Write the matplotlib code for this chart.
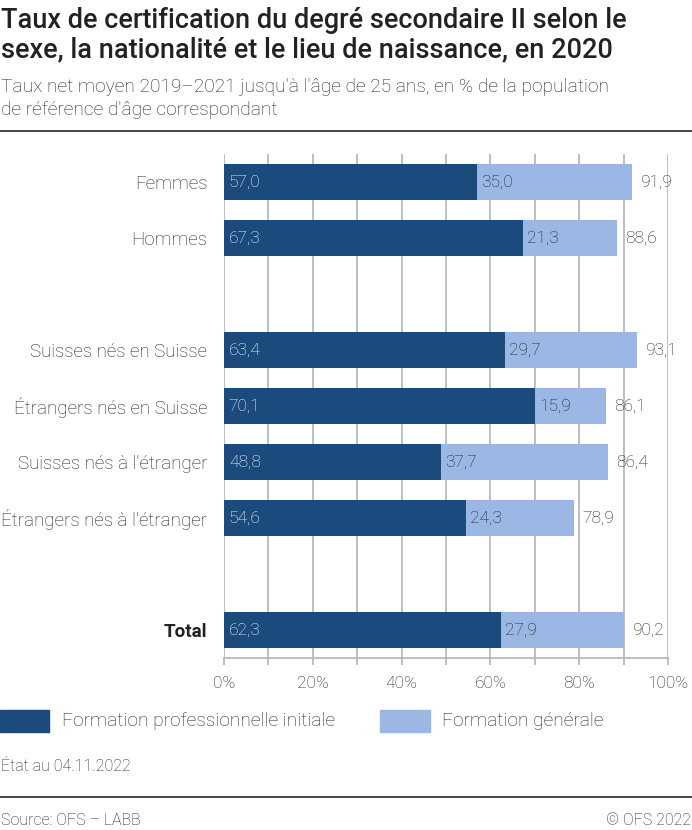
import matplotlib
matplotlib.use("Agg")
import matplotlib.pyplot as plt
from matplotlib.patches import Rectangle
from matplotlib.lines import Line2D

plt.rcParams['font.family'] = ['Roboto', 'DejaVu Sans']

categories = ["Femmes", "Hommes", "", "Suisses nés en Suisse", "Étrangers nés en Suisse",
              "Suisses nés à l'étranger", "Étrangers nés à l'étranger", "", "Total"]
pro = [57.0, 67.3, None, 63.4, 70.1, 48.8, 54.6, None, 62.3]
gen = [35.0, 21.3, None, 29.7, 15.9, 37.7, 24.3, None, 27.9]
tot = [91.9, 88.6, None, 93.1, 86.1, 86.4, 78.9, None, 90.2]
xticks = [0, 20, 40, 60, 80, 100]
xticklabels = ["0%", "20%", "40%", "60%", "80%", "100%"]
series_names = ["Formation professionnelle initiale", "Formation générale"]

DARK = "#1b4a7c"
LIGHT = "#9ab8e3"
GRID = "#b3b3b3"
TXT = "#222222"

W, H = 692, 830
fig = plt.figure(figsize=(W / 100, H / 100), dpi=100)

def fx(px):
    return px / W
def fy(py):
    return 1 - py / H

ax = fig.add_axes([fx(224), fy(658), fx(668) - fx(224), fy(154) - fy(658)])
n = len(categories)
ax.set_ylim(n - 0.5, -0.5)
ax.set_xlim(0, 100)

VFS = 12.5
for i in range(n):
    if pro[i] is None:
        continue
    ax.barh(i, pro[i], height=0.64, color=DARK, zorder=3)
    ax.barh(i, gen[i], left=pro[i], height=0.64, color=LIGHT, zorder=3)
    ax.text(1.1, i, f"{pro[i]:.1f}".replace(".", ","), color="white", va="center",
            ha="left", fontsize=VFS, fontweight="light", zorder=4)
    ax.text(pro[i] + 0.9, i, f"{gen[i]:.1f}".replace(".", ","), color=TXT, va="center",
            ha="left", fontsize=VFS, fontweight="light", zorder=4)
    ax.text(pro[i] + gen[i] + 1.8, i, f"{tot[i]:.1f}".replace(".", ","), color=TXT,
            va="center", ha="left", fontsize=VFS, fontweight="light", zorder=4)

ax.set_xticks(range(0, 101, 10))
ax.set_xticklabels([xticklabels[xticks.index(t)] if t in xticks else "" for t in range(0, 101, 10)])
ax.xaxis.grid(True, color=GRID, linewidth=1.2, zorder=0)
ax.tick_params(axis="x", length=5, width=1.2, color=GRID, labelsize=12.5, labelcolor=TXT, pad=8)
for lbl in ax.get_xticklabels():
    lbl.set_fontweight("light")
ax.set_yticks(range(n))
ax.set_yticklabels(categories)
ax.tick_params(axis="y", length=0, labelsize=13.5, labelcolor=TXT, pad=12)
for i, lbl in enumerate(ax.get_yticklabels()):
    lbl.set_fontweight("bold" if categories[i] == "Total" else "light")
for s in ["top", "right", "left"]:
    ax.spines[s].set_visible(False)
ax.spines["bottom"].set_color(GRID)
ax.spines["bottom"].set_linewidth(1.2)
ax.set_facecolor("none")

# Title and subtitle
TFS = 19.5
fig.text(fx(1), fy(28), "Taux de certification du degré secondaire II selon le",
         fontsize=TFS, fontweight="medium", color=TXT, va="baseline", ha="left")
fig.text(fx(1), fy(57), "sexe, la nationalité et le lieu de naissance, en 2020",
         fontsize=TFS, fontweight="medium", color=TXT, va="baseline", ha="left")
SFS = 13.8
fig.text(fx(1), fy(92), "Taux net moyen 2019–2021 jusqu'à l'âge de 25 ans, en % de la population",
         fontsize=SFS, fontweight="light", color=TXT, va="baseline", ha="left")
fig.text(fx(1), fy(115), "de référence d'âge correspondant",
         fontsize=SFS, fontweight="light", color=TXT, va="baseline", ha="left")

fig.add_artist(Line2D([0, 1], [fy(131), fy(131)], color="#222222", linewidth=1.2,
                      transform=fig.transFigure))
fig.add_artist(Line2D([0, 1], [fy(797), fy(797)], color="#222222", linewidth=1.2,
                      transform=fig.transFigure))

# Legend
LFS = 13.8
fig.add_artist(Rectangle((fx(0), fy(732)), fx(49), fy(710) - fy(732), color=DARK,
                         transform=fig.transFigure))
fig.text(fx(62), fy(721), series_names[0], fontsize=LFS, fontweight="light", color=TXT,
         va="center", ha="left")
fig.add_artist(Rectangle((fx(380), fy(732)), fx(50), fy(710) - fy(732), color=LIGHT,
                         transform=fig.transFigure))
fig.text(fx(442), fy(721), series_names[1], fontsize=LFS, fontweight="light", color=TXT,
         va="center", ha="left")

FFS = 11.5
fig.text(fx(1), fy(766), "État au 04.11.2022", fontsize=FFS, fontweight="light", color=TXT,
         va="center", ha="left")
fig.text(fx(1), fy(820), "Source: OFS – LABB", fontsize=FFS, fontweight="light", color=TXT,
         va="center", ha="left")
fig.text(fx(691), fy(820), "© OFS 2022", fontsize=FFS, fontweight="light", color=TXT,
         va="center", ha="right")

fig.savefig("out.png", dpi=100)
